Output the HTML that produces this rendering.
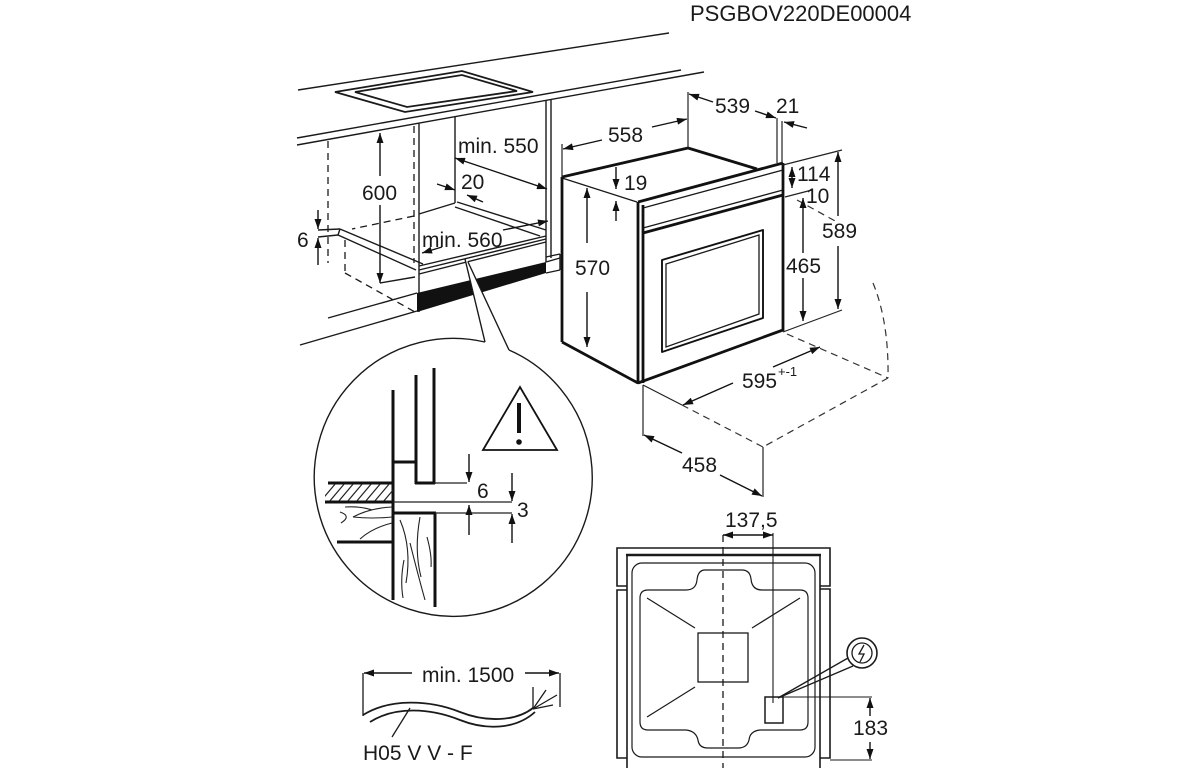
<!DOCTYPE html>
<html><head><meta charset="utf-8"><style>
html,body{margin:0;padding:0;background:#fff;}
svg{display:block;}
text{font-family:"Liberation Sans",Arial,sans-serif;font-size:21px;fill:#1a1a1a;}
</style></head><body>
<svg width="1200" height="768" viewBox="0 0 1200 768" xmlns="http://www.w3.org/2000/svg">
<defs>
<marker id="a" viewBox="0 0 10 7" refX="10" refY="3.5" markerWidth="11" markerHeight="7" markerUnits="userSpaceOnUse" orient="auto-start-reverse"><path d="M0,0L10,3.5L0,7z" fill="#111"/></marker>
<clipPath id="hc"><rect x="325" y="484" width="68" height="17"/></clipPath>
</defs>
<rect width="1200" height="768" fill="#fff"/>

<text x="690" y="21" style="font-size:22px">PSGBOV220DE00004</text>

<!-- ============ CABINET ============ -->
<g stroke="#1a1a1a" stroke-width="1.4" fill="none">
  <line x1="298" y1="90" x2="669" y2="33"/>
  <line x1="297" y1="138" x2="681" y2="70"/>
  <line x1="297" y1="145" x2="704" y2="72"/>
  <polygon points="335,92 462,71 533,92 405,112" stroke-width="1.8"/>
  <polygon points="355,92 462,75 517,91 407,107" stroke-width="1.8"/>
  <line x1="419" y1="123" x2="419" y2="312"/>
  <line x1="455" y1="117" x2="455" y2="203"/>
  <line x1="546" y1="100" x2="546" y2="262"/>
  <line x1="551" y1="99" x2="551" y2="258"/>
  <line x1="419" y1="214" x2="455" y2="203"/>
  <line x1="457" y1="202" x2="546" y2="230"/>
  <line x1="455" y1="207" x2="540" y2="236"/>
  <line x1="419" y1="266" x2="546" y2="236"/>
  <line x1="419" y1="270" x2="546" y2="239"/>
  <line x1="419" y1="274" x2="546" y2="242"/>
  <line x1="340" y1="229" x2="423" y2="264"/>
  <line x1="338" y1="235" x2="416" y2="270"/>
  <line x1="340" y1="229" x2="338" y2="235"/>
  <line x1="318" y1="230" x2="340" y2="229"/>
  <line x1="318" y1="237" x2="338" y2="235"/>
  <line x1="380" y1="283" x2="415" y2="277"/>
  <line x1="328" y1="318" x2="417" y2="293"/>
  <line x1="300" y1="345" x2="417" y2="311"/>
  <line x1="546" y1="257" x2="560" y2="254"/>
  <line x1="546" y1="262" x2="560" y2="258"/>
  <line x1="546" y1="273" x2="560" y2="270"/>
  <line x1="560" y1="254" x2="560" y2="270"/>
</g>
<g stroke="#1a1a1a" stroke-width="1.3" fill="none" stroke-dasharray="7 5">
  <line x1="328" y1="141" x2="328" y2="263"/>
  <line x1="414" y1="126" x2="414" y2="263"/>
  <line x1="414" y1="216" x2="352" y2="229"/>
  <line x1="345" y1="240" x2="345" y2="273"/>
  <line x1="345" y1="273" x2="415" y2="312"/>
</g>
<polygon points="417,293 546,262 546,273 417,312" fill="#111"/>
<!-- callout wedge -->
<polygon points="465,259 485,342 509,350 468,262" fill="#fff"/>
<g stroke="#1a1a1a" stroke-width="1.4" fill="none">
  <line x1="465" y1="259" x2="485" y2="342"/>
  <line x1="468" y1="262" x2="509" y2="350"/>
  <path d="M509,350 A139,139 0 1 1 485,342"/>
</g>
<!-- cabinet dims -->
<g stroke="#111" stroke-width="1.4" fill="none" marker-end="url(#a)">
  <line x1="318" y1="210" x2="318" y2="229"/>
  <line x1="318" y1="265" x2="318" y2="238"/>
  <line x1="380" y1="176" x2="380" y2="133"/>
  <line x1="380" y1="205" x2="380" y2="283"/>
  <line x1="455" y1="158" x2="547" y2="189" marker-start="url(#a)"/>
  <line x1="437" y1="184" x2="455" y2="190"/>
  <line x1="483" y1="202" x2="467" y2="195"/>
  <line x1="442" y1="247" x2="422" y2="253"/>
  <line x1="503" y1="230" x2="548" y2="221"/>
</g>
<text x="458" y="153">min. 550</text>
<text x="461" y="189">20</text>
<text x="362" y="200">600</text>
<text x="297" y="247">6</text>
<text x="422" y="247">min. 560</text>

<!-- ============ CIRCLE DETAIL ============ -->
<g stroke="#111" stroke-width="3" fill="none">
  <line x1="393" y1="390" x2="393" y2="600"/>
  <line x1="416" y1="375" x2="416" y2="484"/>
  <line x1="434" y1="368" x2="434" y2="484"/>
  <line x1="415" y1="483" x2="435" y2="483"/>
  <line x1="393" y1="462" x2="416" y2="462"/>
  <line x1="328" y1="483" x2="393" y2="483"/>
  <line x1="325" y1="502" x2="393" y2="502"/>
  <line x1="337" y1="542" x2="393" y2="542"/>
  <line x1="393" y1="513" x2="436" y2="513"/>
  <line x1="435" y1="513" x2="435" y2="607"/>
</g>
<g clip-path="url(#hc)" stroke="#222" stroke-width="1.2">
  <line x1="320" y1="502" x2="336" y2="483"/><line x1="329" y1="502" x2="345" y2="483"/>
  <line x1="338" y1="502" x2="354" y2="483"/><line x1="347" y1="502" x2="363" y2="483"/>
  <line x1="356" y1="502" x2="372" y2="483"/><line x1="365" y1="502" x2="381" y2="483"/>
  <line x1="374" y1="502" x2="390" y2="483"/><line x1="383" y1="502" x2="399" y2="483"/>
</g>
<g stroke="#222" stroke-width="1.1" fill="none">
  <path d="M340,512 Q352,516 341,523"/>
  <path d="M353,517 Q370,508 392,507"/>
  <path d="M353,517 Q372,519 392,517"/>
  <path d="M360,539 Q372,528 392,523"/>
  <path d="M345,507 Q360,506 372,510"/>
  <path d="M400,520 Q412,548 406,583"/>
  <path d="M420,517 Q414,550 421,577"/>
  <path d="M427,537 Q432,555 431,567"/>
  <path d="M410,543 Q418,575 425,600"/>
  <path d="M404,560 Q400,580 403,598"/>
</g>
<g stroke="#222" stroke-width="1.2">
  <line x1="434" y1="483" x2="467" y2="483"/>
  <line x1="393" y1="502" x2="512" y2="502"/>
  <line x1="435" y1="513" x2="512" y2="513"/>
</g>
<g stroke="#111" stroke-width="1.4" marker-end="url(#a)">
  <line x1="469" y1="454" x2="469" y2="482"/>
  <line x1="469" y1="535" x2="469" y2="505"/>
  <line x1="512" y1="473" x2="512" y2="501"/>
  <line x1="512" y1="543" x2="512" y2="514"/>
</g>
<text x="477" y="498">6</text>
<text x="517" y="517">3</text>
<polygon points="483,450 520,387 557,450" fill="none" stroke="#111" stroke-width="1.8"/>
<line x1="519" y1="403" x2="519" y2="433" stroke="#111" stroke-width="4"/>
<circle cx="519" cy="442" r="2.8" fill="#111"/>

<!-- ============ OVEN ============ -->
<g stroke="#1a1a1a" stroke-width="1.3" fill="none">
  <line x1="562" y1="178" x2="637" y2="202"/>
  <line x1="643" y1="208" x2="783" y2="170"/>
  <line x1="643" y1="228" x2="783" y2="190"/>
  <polygon points="666,264 759,235 759,314 666,347"/>
</g>
<g stroke="#111" stroke-width="2.8" fill="none" stroke-linejoin="round">
  <line x1="562" y1="177" x2="688" y2="148"/>
  <line x1="688" y1="148" x2="757" y2="169"/>
  <line x1="562" y1="177" x2="562" y2="342"/>
  <line x1="562" y1="342" x2="638" y2="383"/>
  <line x1="638" y1="202" x2="638" y2="384"/>
  <line x1="643" y1="205" x2="643" y2="383"/>
  <line x1="638" y1="383" x2="783" y2="330"/>
  <line x1="783" y1="163" x2="783" y2="331"/>
  <line x1="638" y1="202" x2="783" y2="163"/>
  <line x1="643" y1="233" x2="783" y2="195"/>
  <polygon points="662,260 763,230 763,318 662,352" stroke-width="1.9"/>
</g>
<!-- oven dims -->
<g stroke="#222" stroke-width="1.2" fill="none">
  <line x1="562" y1="177" x2="562" y2="144"/>
  <line x1="688" y1="148" x2="688" y2="92"/>
  <line x1="777" y1="118" x2="777" y2="163"/>
  <line x1="782" y1="121" x2="782" y2="163"/>
  <line x1="783" y1="165" x2="842" y2="150"/>
  <line x1="783" y1="332" x2="842" y2="310"/>
  <line x1="785" y1="197" x2="812" y2="190"/>
  <line x1="643" y1="385" x2="682" y2="405"/>
  <line x1="643" y1="385" x2="643" y2="436"/>
  <line x1="763" y1="447" x2="763" y2="497"/>
</g>
<g stroke="#333" stroke-width="1.2" fill="none" stroke-dasharray="7 5">
  <line x1="797" y1="200" x2="837" y2="222"/>
  <path d="M873,283 Q889,322 888,378"/>
  <line x1="787" y1="334" x2="888" y2="378"/>
  <line x1="888" y1="378" x2="763" y2="447"/>
  <line x1="682" y1="405" x2="763" y2="447"/>
</g>
<g stroke="#111" stroke-width="1.4" fill="none" marker-end="url(#a)">
  <line x1="602" y1="140" x2="563" y2="149"/>
  <line x1="652" y1="127" x2="687" y2="119"/>
  <line x1="713" y1="102" x2="689" y2="94"/>
  <line x1="755" y1="111" x2="776" y2="118"/>
  <line x1="807" y1="128" x2="784" y2="122"/>
  <line x1="616" y1="167" x2="616" y2="189"/>
  <line x1="616" y1="221" x2="616" y2="201"/>
  <line x1="587" y1="243" x2="587" y2="188"/>
  <line x1="587" y1="292" x2="587" y2="347"/>
  <line x1="792" y1="167" x2="792" y2="188" marker-start="url(#a)"/>
  <line x1="803" y1="253" x2="803" y2="198"/>
  <line x1="803" y1="278" x2="803" y2="321"/>
  <line x1="838" y1="216" x2="838" y2="152"/>
  <line x1="838" y1="246" x2="838" y2="309"/>
  <line x1="733" y1="383" x2="683" y2="405"/>
  <line x1="773" y1="367" x2="820" y2="347"/>
  <line x1="682" y1="453" x2="644" y2="435"/>
  <line x1="720" y1="475" x2="762" y2="496"/>
</g>
<text x="608" y="142">558</text>
<text x="715" y="113">539</text>
<text x="776" y="113">21</text>
<text x="624" y="190">19</text>
<text x="575" y="275">570</text>
<text x="797" y="181">114</text>
<text x="806" y="203">10</text>
<text x="822" y="238">589</text>
<text x="786" y="273">465</text>
<text x="742" y="388">595</text>
<text x="778" y="376" style="font-size:13px">+-1</text>
<text x="682" y="472">458</text>

<!-- ============ BACK VIEW ============ -->
<g stroke="#1a1a1a" stroke-width="1.6" fill="none">
  <polyline points="627,586 617,586 617,548 830,548 830,586 820,586"/>
  <polyline points="627,590 617,590 617,758 627,758"/>
  <polyline points="820,589 830,589 830,758 820,758"/>
  <line x1="627" y1="555" x2="627" y2="768"/>
  <line x1="820" y1="555" x2="820" y2="768"/>
  <line x1="626" y1="555" x2="821" y2="555" stroke-width="2.6"/>
  <rect x="632" y="563" width="183" height="194" rx="10" stroke-width="1.2"/>
  <path d="M705,570 L742,570 Q750,570 751,579 Q752,590 762,590 L800,590 Q808,590 808,598 L808,722 Q808,730 800,730 L760,730 Q750,731 749,740 Q747,748 738,748 L708,748 Q699,748 698,740 Q696,731 686,730 L648,730 Q640,730 640,722 L640,598 Q640,590 648,590 L686,590 Q696,590 697,580 Q698,570 705,570 Z" stroke-width="1.2"/>
  <line x1="647" y1="598" x2="695" y2="628" stroke-width="1.2"/>
  <line x1="800" y1="598" x2="752" y2="628" stroke-width="1.2"/>
  <line x1="647" y1="717" x2="695" y2="687" stroke-width="1.2"/>
  <rect x="698" y="633" width="50" height="49" stroke-width="1.3"/>
  <rect x="765" y="697" width="18" height="26" stroke-width="1.5"/>
  <line x1="773" y1="533" x2="773" y2="703" stroke-width="1.1"/>
  <line x1="723" y1="535" x2="723" y2="768" stroke-width="1.3" stroke-dasharray="7 5"/>
  <circle cx="862" cy="653" r="15" stroke-width="1.6"/>
  <circle cx="862" cy="653" r="10" stroke-width="1.3"/>
  <polyline points="864,645 859,654 864,654 860,662" stroke-width="1.3"/>
  <line x1="848" y1="658" x2="778" y2="698" stroke-width="1.3"/>
  <line x1="853" y1="666" x2="778" y2="698" stroke-width="1.3"/>
  <line x1="783" y1="697" x2="872" y2="697" stroke-width="1.1"/>
  <line x1="830" y1="760" x2="872" y2="760" stroke-width="1.1"/>
</g>
<g stroke="#111" stroke-width="1.4" marker-end="url(#a)">
  <line x1="723" y1="535" x2="773" y2="535" marker-start="url(#a)"/>
  <line x1="870" y1="716" x2="870" y2="698"/>
  <line x1="870" y1="742" x2="870" y2="759"/>
</g>
<text x="725" y="527">137,5</text>
<text x="853" y="735">183</text>

<!-- ============ CABLE ============ -->
<g stroke="#1a1a1a" stroke-width="1.3" fill="none">
  <line x1="363" y1="673" x2="363" y2="716"/>
  <line x1="560" y1="673" x2="560" y2="707"/>
  <path d="M363,715 C390,698 430,700 460,712 C485,722 515,722 533,708" stroke-width="1.8"/>
  <path d="M370,722 C395,706 430,708 460,720 C485,730 515,730 535,712" stroke-width="1.8"/>
  <line x1="533" y1="709" x2="533" y2="687"/>
  <line x1="533" y1="709" x2="546" y2="690"/>
  <line x1="533" y1="709" x2="557" y2="695"/>
  <line x1="533" y1="709" x2="553" y2="705"/>
  <line x1="410" y1="708" x2="392" y2="737"/>
</g>
<g stroke="#111" stroke-width="1.4" marker-end="url(#a)">
  <line x1="412" y1="673" x2="364" y2="673"/>
  <line x1="525" y1="673" x2="559" y2="673"/>
</g>
<text x="422" y="682">min. 1500</text>
<text x="363" y="760">H05 V V - F</text>
</svg>
</body></html>
